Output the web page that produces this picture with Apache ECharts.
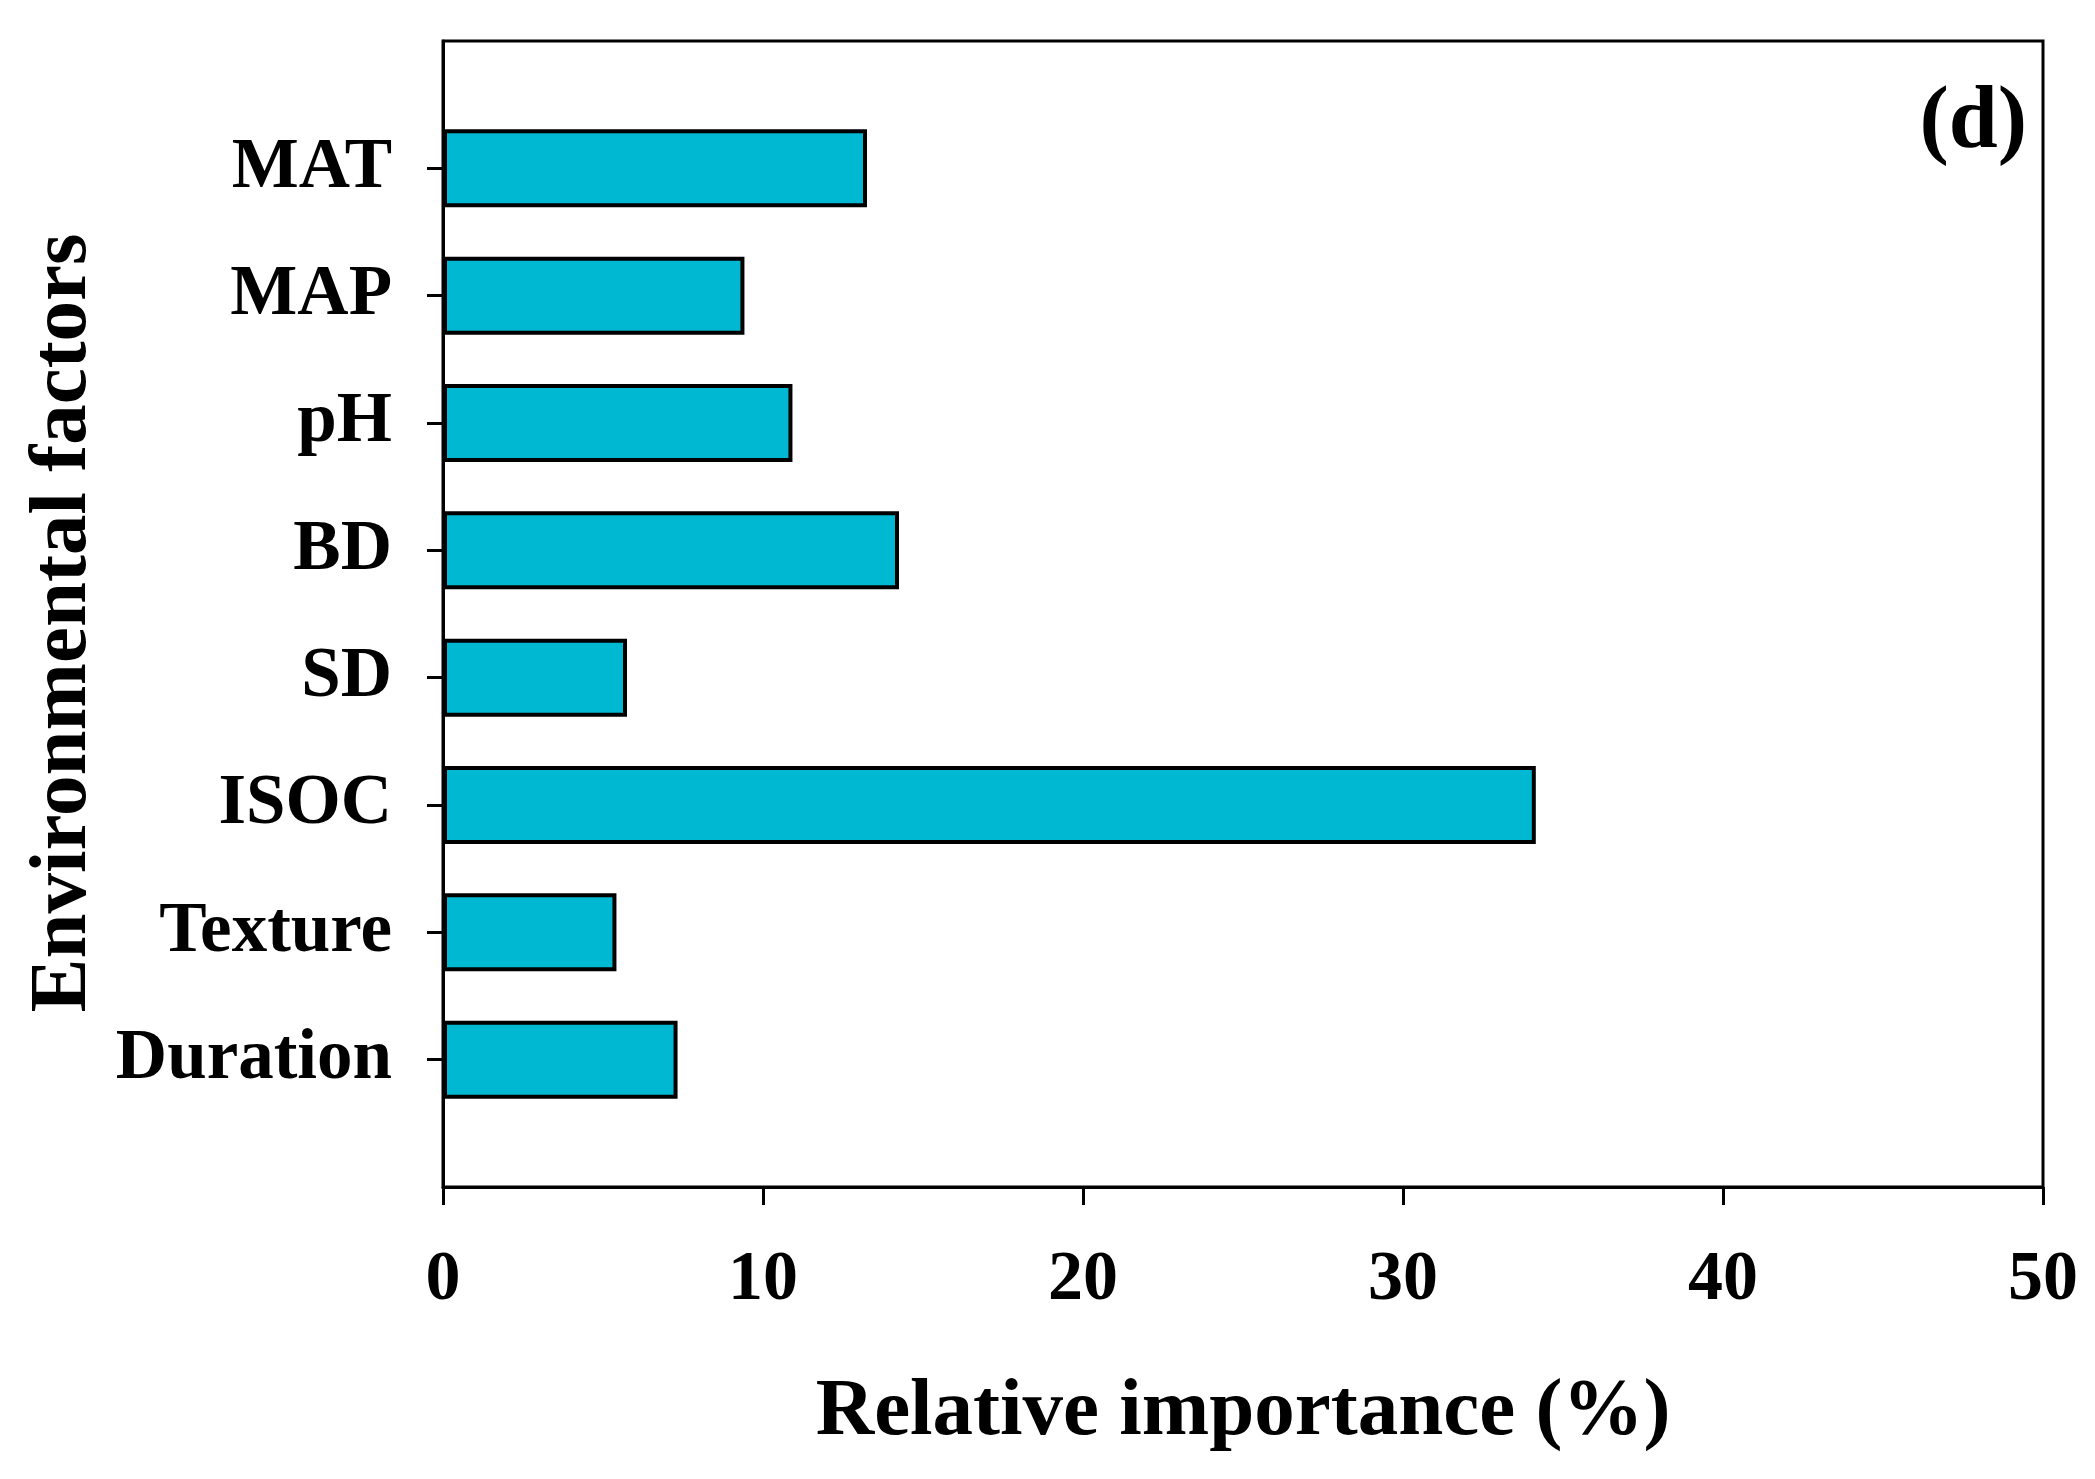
<!DOCTYPE html>
<html>
<head>
<meta charset="utf-8">
<script src="https://cdn.jsdelivr.net/npm/echarts@6/dist/echarts.min.js"></script>
<style>
html,body{margin:0;padding:0;background:#fff;}
#chart{width:2095px;height:1479px;}
</style>
</head>
<body>
<div id="chart"></div>
<script>
const categories = ['MAT', 'MAP', 'pH', 'BD', 'SD', 'ISOC', 'Texture', 'Duration'];
const values = [13.25, 9.42, 10.92, 14.25, 5.75, 34.15, 5.42, 7.33];
const xTicks = [0, 10, 20, 30, 40, 50];
const panelLabel = '(d)';
const xTitle = 'Relative importance (%)';
const yTitle = 'Environmental factors';

// pad the category axis with an empty slot at each end
const axisCats = [''].concat(categories, ['']);
const axisVals = [null].concat(values, [null]);

const FONT = '"Liberation Serif", "Times New Roman", serif';
const chart = echarts.init(document.getElementById('chart'));
chart.setOption({
  backgroundColor: '#fff',
  animation: false,
  title: {
    text: panelLabel,
    right: 63,
    top: 75,
    textStyle: { fontFamily: FONT, fontWeight: 'bold', fontSize: 88, color: '#000' }
  },
  grid: {
    left: 443, right: 52, top: 41, bottom: 292,
    show: true, borderColor: '#000', borderWidth: 3, backgroundColor: 'transparent'
  },
  xAxis: {
    type: 'value',
    min: xTicks[0],
    max: xTicks[xTicks.length - 1],
    interval: 10,
    name: xTitle,
    nameLocation: 'middle',
    nameGap: 186,
    nameTextStyle: { fontFamily: FONT, fontWeight: 'bold', fontSize: 81, color: '#000' },
    axisLine: { show: true, lineStyle: { color: '#000', width: 3 } },
    axisTick: { show: true, length: 18, lineStyle: { color: '#000', width: 3 } },
    axisLabel: { margin: 59, fontFamily: FONT, fontWeight: 'bold', fontSize: 70, color: '#000' },
    splitLine: { show: false }
  },
  yAxis: {
    type: 'category',
    data: axisCats,
    inverse: true,
    boundaryGap: false,
    name: yTitle,
    nameLocation: 'middle',
    nameGap: 336,
    nameTextStyle: {
      fontFamily: FONT, fontWeight: 'bold', fontSize: 81, color: '#000',
      padding: [0, 18, 0, 0]
    },
    axisLine: { show: true, lineStyle: { color: '#000', width: 3 } },
    axisTick: {
      show: true, length: 16, alignWithLabel: true,
      interval: function (i) { return i > 0 && i < axisCats.length - 1; },
      lineStyle: { color: '#000', width: 3 }
    },
    axisLabel: {
      margin: 51, interval: 0, padding: [18, 0, 0, 0],
      fontFamily: FONT, fontWeight: 'bold', fontSize: 71, color: '#000'
    },
    splitLine: { show: false }
  },
  series: [{
    type: 'bar',
    data: axisVals,
    barWidth: 78,
    itemStyle: { color: '#00b8d1', borderColor: '#000', borderWidth: 4 },
    silent: true
  }]
});
</script>
</body>
</html>
